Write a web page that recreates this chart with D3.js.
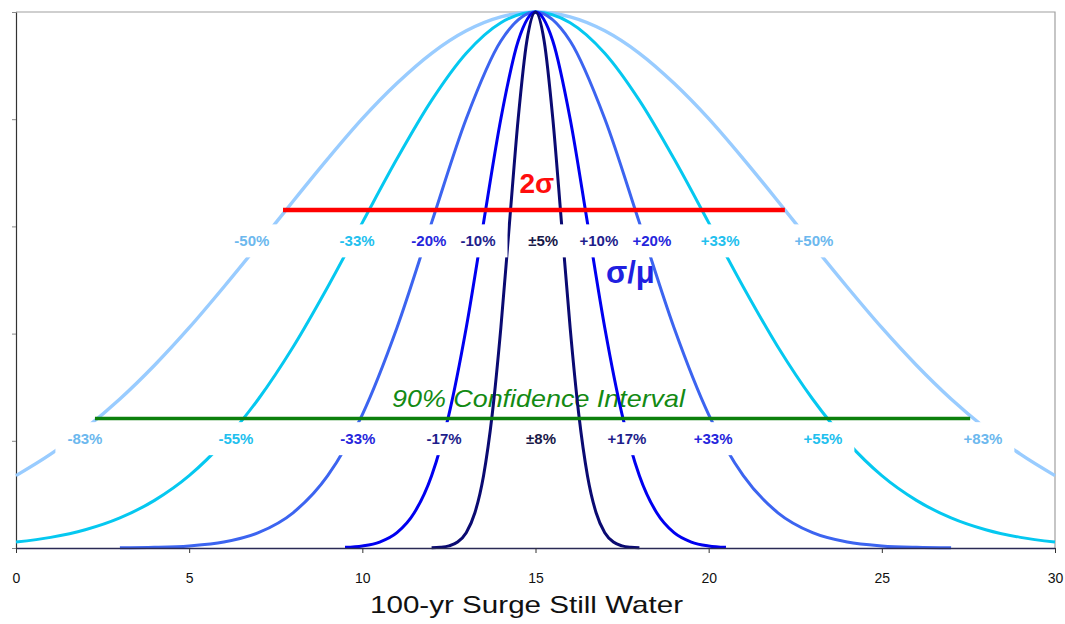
<!DOCTYPE html>
<html>
<head>
<meta charset="utf-8">
<script src="https://cdn.jsdelivr.net/npm/d3@7"></script>
<style>
  html, body { margin: 0; padding: 0; background: #ffffff; }
  svg { display: block; font-family: "Liberation Sans", Arial, sans-serif; }
</style>
</head>
<body>
<svg id="chart" width="1065" height="624"></svg>
<script>
// ---------------- data ----------------
const seriesNames = ["50%", "33%", "20%", "10%", "5%"];   // sigma / mu
const curveColors = ["#99ccff", "#05c8f0", "#3c64f0", "#0000f0", "#0a0a72"];
const labelColors = ["#6cb8ee", "#22c0ee", "#2626dc", "#1e1e8c", "#181848"];

// sigma/mu = 50%
const x50 = [0,1,2,3,4,5,6,7,8,9,10,11,12,13,14,15,16,17,18,19,20,21,22,23,24,25,26,27,28,29,30];
const y50 = [0.135,0.175,0.223,0.278,0.341,0.411,0.487,0.566,0.647,0.726,0.801,0.867,0.923,0.965,0.991,1,
             0.991,0.965,0.923,0.867,0.801,0.726,0.647,0.566,0.487,0.411,0.341,0.278,0.223,0.175,0.135];
// sigma/mu = 33%
const x33 = [0,1,2,3,4,5,6,7,8,9,10,11,12,13,14,15,16,17,18,19,20,21,22,23,24,25,26,27,28,29,30];
const y33 = [0.0111,0.0198,0.034,0.0561,0.0889,0.135,0.198,0.278,0.375,0.487,0.607,0.726,0.835,0.923,0.98,1,
             0.98,0.923,0.835,0.726,0.607,0.487,0.375,0.278,0.198,0.135,0.0889,0.0561,0.034,0.0198,0.0111];
// sigma/mu = 20%
const x20 = [3,4,5,6,7,8,9,10,11,12,13,14,15,16,17,18,19,20,21,22,23,24,25,26,27];
const y20 = [0.0003,0.0012,0.0039,0.0111,0.0286,0.0657,0.135,0.249,0.411,0.607,0.801,0.946,1,
             0.946,0.801,0.607,0.411,0.249,0.135,0.0657,0.0286,0.0111,0.0039,0.0012,0.0003];
// sigma/mu = 10%
const x10 = [9.5,10,10.5,11,11.5,12,12.5,13,13.5,14,14.5,15,15.5,16,16.5,17,17.5,18,18.5,19,19.5,20,20.5];
const y10 = [0.0012,0.0039,0.0111,0.0286,0.0657,0.135,0.249,0.411,0.607,0.801,0.946,1,
             0.946,0.801,0.607,0.411,0.249,0.135,0.0657,0.0286,0.0111,0.0039,0.0012];
// sigma/mu = 5%
const x05 = [12,12.25,12.5,12.75,13,13.25,13.5,13.75,14,14.25,14.5,14.75,15,15.25,15.5,15.75,16,16.25,16.5,16.75,17,17.25,17.5,17.75,18];
const y05 = [0.0003,0.0012,0.0039,0.0111,0.0286,0.0657,0.135,0.249,0.411,0.607,0.801,0.946,1,
             0.946,0.801,0.607,0.411,0.249,0.135,0.0657,0.0286,0.0111,0.0039,0.0012,0.0003];

const xTicks = [0, 5, 10, 15, 20, 25, 30];
const yTicks = [0, 0.2, 0.4, 0.6, 0.8, 1.0];

// annotation rows
const row1Labels = ["-50%","-33%","-20%","-10%","±5%","+10%","+20%","+33%","+50%"];
const row1X      = [6.81, 9.85, 11.92, 13.34, 15.22, 16.83, 18.36, 20.33, 23.04];
const row1Series = [0,1,2,3,4,3,2,1,0];
const row1Y = 0.573;
const row2Labels = ["-83%","-55%","-33%","-17%","±8%","+17%","+33%","+55%","+83%"];
const row2X      = [1.99, 6.35, 9.87, 12.36, 15.16, 17.64, 20.13, 23.30, 27.92];
const row2Series = [0,1,2,3,4,3,2,1,0];
const row2Y = 0.204;

// horizontal reference lines
const twoSigmaLine = { x0: 7.71, x1: 22.2, y: 0.6306 };
const ciLine = { x0: 2.28, x1: 27.55, y: 0.2416 };

const xTitle = "100-yr Surge Still Water";

// ---------------- drawing ----------------
const svg = d3.select("#chart");
const x = d3.scaleLinear().domain([0, 30]).range([16, 1055]);
const y = d3.scaleLinear().domain([0, 1]).range([548, 12]);

// plot frame (top and right grey lines)
svg.append("path")
  .attr("d", `M${x(0)},${y(1)}H${x(30)}V${y(0)}`)
  .attr("fill", "none").attr("stroke", "#a0a0a0").attr("stroke-width", 1.2);

// y axis
const yAxis = d3.axisLeft(y).tickValues(yTicks).tickSize(4).tickSizeOuter(0).tickFormat("");
const gy = svg.append("g").attr("transform", `translate(${x(0)},0)`).call(yAxis);
gy.select(".domain").attr("stroke", "#333").attr("stroke-width", 1.2);
gy.selectAll(".tick line").attr("stroke", "#888");

// text annotations that sit behind curves
svg.append("text")
  .attr("x", x(15.04)).attr("y", 193)
  .attr("text-anchor", "middle")
  .attr("font-size", 28).attr("font-weight", "bold")
  .attr("fill", "#ff0d0d")
  .text("2σ");

svg.append("text")
  .attr("x", 606).attr("y", 283)
  .attr("font-size", 31).attr("font-weight", "bold")
  .attr("fill", "#2020e0")
  .text("σ/μ");

svg.append("text")
  .attr("x", 392).attr("y", 407)
  .attr("font-size", 24).attr("font-style", "italic")
  .attr("fill", "#138a13")
  .attr("textLength", 293).attr("lengthAdjust", "spacingAndGlyphs")
  .text("90% Confidence  Interval");

// curves (lightest first, darkest on top)
const seriesX = [x50, x33, x20, x10, x05];
const seriesY = [y50, y33, y20, y10, y05];
const line = d3.line().x(d => x(d[0])).y(d => y(d[1])).curve(d3.curveMonotoneX);
seriesNames.forEach((name, i) => {
  const pts = seriesX[i].map((xv, j) => [xv, seriesY[i][j]]);
  svg.append("path")
    .datum(pts)
    .attr("d", line)
    .attr("fill", "none")
    .attr("stroke", curveColors[i])
    .attr("stroke-width", i === 0 ? 3.4 : 3)
    .attr("stroke-linejoin", "round");
});

// x axis
const xAxis = d3.axisBottom(x).tickValues(xTicks).tickSize(5).tickSizeOuter(0).tickPadding(20);
const gx = svg.append("g").attr("transform", `translate(0,${y(0)})`).call(xAxis);
gx.select(".domain").attr("stroke", "#2a2a55").attr("stroke-width", 1.4);
gx.selectAll(".tick line").attr("stroke", "#333");
gx.selectAll(".tick text")
  .attr("font-size", 14).attr("fill", "#111")
  .attr("font-family", "\"Liberation Sans\", Arial, sans-serif");

// reference lines
svg.append("line")
  .attr("x1", x(twoSigmaLine.x0)).attr("x2", x(twoSigmaLine.x1))
  .attr("y1", y(twoSigmaLine.y)).attr("y2", y(twoSigmaLine.y))
  .attr("stroke", "#ff0000").attr("stroke-width", 4.5);
svg.append("line")
  .attr("x1", x(ciLine.x0)).attr("x2", x(ciLine.x1))
  .attr("y1", y(ciLine.y)).attr("y2", y(ciLine.y))
  .attr("stroke", "#0c800c").attr("stroke-width", 3.5);

// label rows with white boxes
function labelRow(labels, xs, ser, yv) {
  const g = svg.append("g");
  labels.forEach((t, i) => {
    const cx = x(xs[i]), cy = y(yv);
    const grp = g.append("g");
    const rect = grp.append("rect").attr("fill", "#fff");
    const txt = grp.append("text")
      .attr("x", cx).attr("y", cy + 5.5)
      .attr("text-anchor", "middle")
      .attr("font-size", 15).attr("font-weight", "bold")
      .attr("fill", labelColors[ser[i]])
      .text(t);
    const w = txt.node().getComputedTextLength();
    rect.attr("x", cx - w / 2 - 12).attr("width", w + 24)
        .attr("y", cy - 16.5).attr("height", 33);
  });
}
labelRow(row1Labels, row1X, row1Series, row1Y);
labelRow(row2Labels, row2X, row2Series, row2Y);

// x axis title
svg.append("text")
  .attr("x", 370).attr("y", 613)
  .attr("font-size", 24).attr("fill", "#111")
  .attr("textLength", 313).attr("lengthAdjust", "spacingAndGlyphs")
  .text(xTitle);
</script>
</body>
</html>
